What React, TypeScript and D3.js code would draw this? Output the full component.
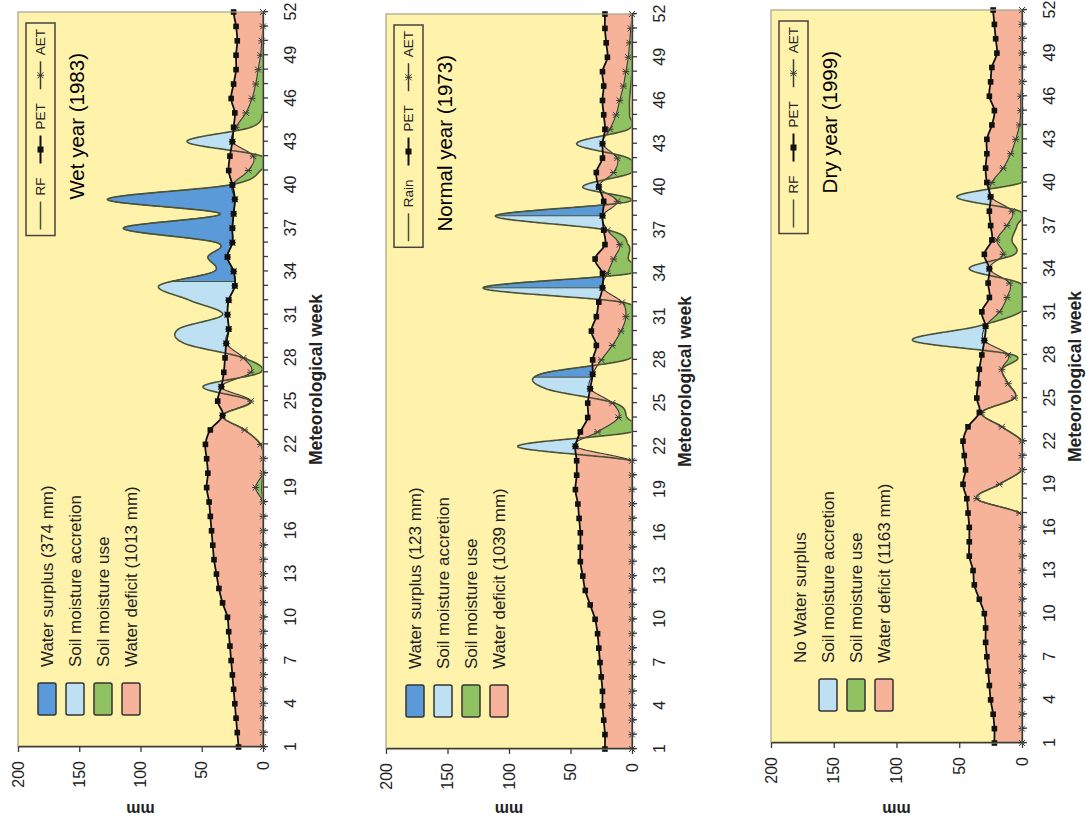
import React, { useEffect, useRef } from 'react';
import * as d3 from 'd3';

// ---------- data ----------
const weeks = d3.range(1, 53);
const weekLabels = [1, 4, 7, 10, 13, 16, 19, 22, 25, 28, 31, 34, 37, 40, 43, 46, 49, 52];
const mmTicks = [0, 50, 100, 150, 200];

// Wet year (1983)
const wetRF = [0,0,0,0,0,0,0,0,0,0, 0,0,0,0,0,0,0,0,1,0, 0,2,15,33,10,49,2,16,64,69, 33,60,85,40,45,38,114,35,127,27, 2,1,62,10,0,0,0,0,0,0, 0,0];
const wetPET = [20,21,22,23,24,25,26,27,28,29, 33,36,38,40,41,42,43,44,46,45, 46,47,43,33,37,34,32,31,30,28, 29,28,23,24,29,25,25,24,23,25, 28,27,25,24,23,26,24,22,22,21, 22,24];
const wetAET = [0,0,0,0,0,0,0,0,0,0, 0,0,0,0,0,0,0,0,6,0, 0,2,15,33,10,34,10,16,30,28, 29,28,23,24,29,25,25,24,23,25, 12,8,25,22,14,9,6,4,2,1, 0,0];
const wetSurplusWeeks = [[33.3, 41]];
const wetLegend = ['Water surplus (374 mm)', 'Soil moisture accretion', 'Soil moisture use', 'Water deficit (1013 mm)'];

// Normal year (1973)
const normalRF = [0,0,0,0,0,0,0,0,0,0, 0,0,0,0,0,0,0,0,0,0, 0,93,0,4,14,70,75,5,0,0, 0,8,121,1,3,3,20,111,2,40, 0,3,45,3,2,2,1,0,0,0, 0,0];
const normalPET = [22,22,23,24,24,25,26,27,28,30, 34,38,40,42,42,42,43,44,46,45, 45,46,42,36,36,34,32,32,29,33, 29,27,24,24,30,22,23,24,23,27, 29,24,24,22,23,24,23,24,20,21, 22,22];
const normalAET = [0,0,0,0,0,0,0,0,0,0, 0,0,0,0,0,0,0,0,0,0, 0,46,28,11,16,34,32,25,16,9, 5,8,24,20,15,10,20,24,12,27, 15,12,24,18,13,10,7,5,3,2, 1,0];
const normalSurplusWeeks = [[26.8, 28.5], [33, 34.5], [38, 39.5]];
const normalLegend = ['Water surplus (123 mm)', 'Soil moisture accretion', 'Soil moisture use', 'Water deficit (1039 mm)'];

// Dry year (1999)
const dryRF = [0,0,0,0,0,0,0,0,0,0, 0,0,0,0,0,0,2,36,18,0, 0,0,16,32,6,11,16,7,87,35, 1,0,2,42,6,8,4,2,52,0, 0,0,0,0,0,0,0,0,0,0, 0,0];
const dryPET = [22,22,23,25,26,27,28,29,29,30, 34,38,39,42,42,42,43,44,47,45, 46,47,43,34,36,35,34,32,30,29, 32,26,27,26,30,24,25,26,25,28, 29,28,28,24,22,26,25,24,20,21, 22,23];
const dryAET = [0,0,0,0,0,0,0,0,0,0, 0,0,0,0,0,0,2,36,18,0, 0,0,16,32,6,11,16,11,30,29, 18,12,10,26,15,20,12,8,25,24, 15,9,5,2,1,1,0,0,0,0, 0,0];
const drySurplusWeeks: number[][] = [];
const dryLegend = ['No Water surplus', 'Soil moisture accretion', 'Soil moisture use', 'Water deficit (1163 mm)'];

const panelTitles = ['Wet year (1983)', 'Normal year (1973)', 'Dry year (1999)'];
const rainNames = ['RF', 'Rain', 'RF'];

// ---------- styles / layout ----------
const FONT = "'Liberation Sans', Arial, Helvetica, sans-serif";
const C = {
  plot: '#FFF3AC',
  deficit: '#F6B39A',
  use: '#90C262',
  accretion: '#BEE0F3',
  surplus: '#5B9AD8',
  rf: '#4a5238',
  pet: '#111111',
  aet: '#3a3a36',
  axis: '#3a3a3a',
  border: '#a6a38d',
  text: '#222222',
};
// original (landscape) coordinates: width 824, height 1086; rotated -90deg onto the page
const layout = [
  { x0: 77, x1: 812, y0: 18, y1: 263 },
  { x0: 75, x1: 810, y0: 386, y1: 632 },
  { x0: 81, x1: 814, y0: 771, y1: 1022 },
];

// smoothed (Catmull-Rom) reading of a weekly series at fractional week t
const smooth = (arr: number[]) => (t: number) => {
  const i = Math.max(0, Math.min(50, Math.floor(t) - 1));
  const s = t - (i + 1);
  const p0 = arr[Math.max(0, i - 1)], p1 = arr[i], p2 = arr[i + 1], p3 = arr[Math.min(51, i + 2)];
  const v = 0.5 * (2 * p1 + (-p0 + p2) * s + (2 * p0 - 5 * p1 + 4 * p2 - p3) * s * s + (-p0 + 3 * p1 - 3 * p2 + p3) * s * s * s);
  return Math.max(0, v);
};

export default function App() {
  const ref = useRef<SVGSVGElement>(null);
  useEffect(() => {
    const svg = d3.select(ref.current);
    svg.selectAll('*').remove();
    svg.append('rect').attr('width', 1086).attr('height', 824).attr('fill', '#ffffff');
    const root = svg.append('g').attr('transform', 'translate(0,824) rotate(-90)');

    const panels = [
      { rf: wetRF, pet: wetPET, aet: wetAET, surplus: wetSurplusWeeks, legend: wetLegend, keys: ['surplus', 'accretion', 'use', 'deficit'] },
      { rf: normalRF, pet: normalPET, aet: normalAET, surplus: normalSurplusWeeks, legend: normalLegend, keys: ['surplus', 'accretion', 'use', 'deficit'] },
      { rf: dryRF, pet: dryPET, aet: dryAET, surplus: drySurplusWeeks, legend: dryLegend, keys: ['none', 'accretion', 'use', 'deficit'] },
    ];
    const samples = d3.range(0, 51 * 40 + 1).map((k) => 1 + k / 40);

    panels.forEach((p, pi) => {
      const L = layout[pi];
      const x = d3.scaleLinear().domain([1, 52]).range([L.x0, L.x1]);
      const y = d3.scaleLinear().domain([0, 200]).range([L.y1, L.y0]);
      const pg = root.append('g');

      pg.append('rect').attr('x', L.x0).attr('y', L.y0).attr('width', L.x1 - L.x0).attr('height', L.y1 - L.y0)
        .attr('fill', C.plot);

      const rf = smooth(p.rf), pet = smooth(p.pet), aet = smooth(p.aet);
      const band = (lo: (t: number) => number, hi: (t: number) => number, ts: number[]) =>
        d3.area<number>().x((t) => x(t)).y0((t) => y(lo(t))).y1((t) => y(Math.max(lo(t), hi(t))))(ts);

      pg.append('path').attr('d', band(aet, pet, samples)).attr('fill', C.deficit);
      pg.append('path').attr('d', band(rf, aet, samples)).attr('fill', C.use);
      pg.append('path').attr('d', band(pet, rf, samples)).attr('fill', C.accretion);
      p.surplus.forEach(([s, e]) => {
        const ts = samples.filter((t) => t >= s && t <= e);
        pg.append('path').attr('d', band(pet, rf, ts)).attr('fill', C.surplus)
          .attr('stroke', C.rf).attr('stroke-width', 1);
      });

      const lineOf = (f: (t: number) => number) => d3.line<number>().x((t) => x(t)).y((t) => y(f(t)))(samples);
      pg.append('path').attr('d', lineOf(aet)).attr('fill', 'none').attr('stroke', C.aet).attr('stroke-width', 1.1);
      pg.append('path').attr('d', lineOf(rf)).attr('fill', 'none').attr('stroke', C.rf).attr('stroke-width', 1.6);
      pg.append('path').attr('d', lineOf(pet)).attr('fill', 'none').attr('stroke', C.pet).attr('stroke-width', 1.8);

      const starPath = 'M0,-3.5V3.5M-3,-3L3,3M-3,3L3,-3';
      pg.append('g').selectAll('path').data(weeks).join('path')
        .attr('d', starPath)
        .attr('transform', (w) => `translate(${x(w)},${y(p.aet[w - 1])})`)
        .attr('stroke', C.aet).attr('stroke-width', 1).attr('fill', 'none');
      pg.append('g').selectAll('rect').data(weeks).join('rect')
        .attr('x', (w) => x(w) - 2.8).attr('y', (w) => y(p.pet[w - 1]) - 2.8)
        .attr('width', 5.6).attr('height', 5.6).attr('fill', C.pet);

      // plot border
      pg.append('rect').attr('x', L.x0).attr('y', L.y0).attr('width', L.x1 - L.x0).attr('height', L.y1 - L.y0)
        .attr('fill', 'none').attr('stroke', C.border).attr('stroke-width', 1.2);

      // axes
      const labelSet = new Set(weekLabels);
      const gx = pg.append('g').attr('transform', `translate(0,${L.y1})`)
        .call(d3.axisBottom(x).tickValues(weeks).tickSize(5).tickSizeOuter(0)
          .tickFormat((w: any) => (labelSet.has(w) ? String(w) : '')));
      gx.attr('font-family', FONT).attr('font-size', 16);
      gx.selectAll('text').attr('y', 27).attr('dy', '0.35em').attr('fill', C.text);
      gx.selectAll('line, path').attr('stroke', C.axis).attr('stroke-width', 1.3);

      const gy = pg.append('g').attr('transform', `translate(${L.x0},0)`)
        .call(d3.axisLeft(y).tickValues(mmTicks).tickSize(5).tickPadding(9).tickSizeOuter(0));
      gy.attr('font-family', FONT).attr('font-size', 16);
      gy.selectAll('text').attr('fill', C.text);
      gy.selectAll('line, path').attr('stroke', C.axis).attr('stroke-width', 1.3);

      pg.append('text').attr('transform', `translate(15,${(L.y0 + L.y1) / 2}) rotate(-90)`)
        .attr('text-anchor', 'middle').attr('dominant-baseline', 'central')
        .attr('font-family', FONT).attr('font-size', 16).attr('font-weight', 'bold').attr('fill', C.text)
        .text('mm');
      pg.append('text').attr('x', (L.x0 + L.x1) / 2).attr('y', L.y1 + 53)
        .attr('text-anchor', 'middle').attr('dominant-baseline', 'central')
        .attr('font-family', FONT).attr('font-size', 17.5).attr('font-weight', 'bold').attr('fill', C.text)
        .text('Meteorological week');

      // title
      pg.append('text').attr('x', L.x1 - 41).attr('y', L.y0 + 66).attr('text-anchor', 'end')
        .attr('font-family', FONT).attr('font-size', 20.5).attr('fill', '#000')
        .text(panelTitles[pi]);

      // series legend
      const lg = pg.append('g');
      const items = lg.append('g');
      const boxY0 = L.y0 + 8, boxH = 29, cy = boxY0 + boxH / 2;
      let cur = 6;
      [
        { name: rainNames[pi], kind: 'rf' },
        { name: 'PET', kind: 'pet' },
        { name: 'AET', kind: 'aet' },
      ].forEach((e) => {
        const col = e.kind === 'rf' ? C.rf : e.kind === 'pet' ? C.pet : C.aet;
        items.append('line').attr('x1', cur).attr('x2', cur + 28).attr('y1', cy).attr('y2', cy)
          .attr('stroke', col).attr('stroke-width', e.kind === 'pet' ? 2 : 1.5);
        if (e.kind === 'pet') {
          items.append('rect').attr('x', cur + 14 - 3).attr('y', cy - 3).attr('width', 6).attr('height', 6).attr('fill', C.pet);
        } else if (e.kind === 'aet') {
          items.append('path').attr('d', starPath).attr('transform', `translate(${cur + 14},${cy})`)
            .attr('stroke', C.aet).attr('fill', 'none').attr('stroke-width', 1);
        }
        const t = items.append('text').attr('x', cur + 34).attr('y', cy).attr('dominant-baseline', 'central')
          .attr('font-family', FONT).attr('font-size', 13.5).attr('fill', C.text).text(e.name);
        const w = (t.node() as SVGTextElement).getComputedTextLength();
        cur += 34 + w + 14;
      });
      const boxW = cur - 14 + 6;
      const bx = L.x1 - 11 - boxW;
      items.attr('transform', `translate(${bx},0)`);
      lg.insert('rect', ':first-child').attr('x', bx).attr('y', boxY0).attr('width', boxW).attr('height', boxH)
        .attr('fill', C.plot).attr('stroke', '#444').attr('stroke-width', 1.5);

      // fill legend
      const fillColor: Record<string, string> = { surplus: C.surplus, accretion: C.accretion, use: C.use, deficit: C.deficit };
      p.legend.forEach((label, i) => {
        const ry = L.y0 + 29 + i * 28;
        const key = p.keys[i];
        if (key !== 'none') {
          pg.append('rect').attr('x', L.x0 + 32).attr('y', ry - 9).attr('width', 32).attr('height', 18)
            .attr('rx', 2).attr('fill', fillColor[key]).attr('stroke', '#333').attr('stroke-width', 1.5);
        }
        pg.append('text').attr('x', L.x0 + 80).attr('y', ry).attr('dominant-baseline', 'central')
          .attr('font-family', FONT).attr('font-size', 17).attr('fill', C.text).text(label);
      });
    });
  }, []);
  return (
    <svg ref={ref} width={1086} height={824}
      style={{ position: 'absolute', left: 0, top: 0, display: 'block' }} />
  );
}
